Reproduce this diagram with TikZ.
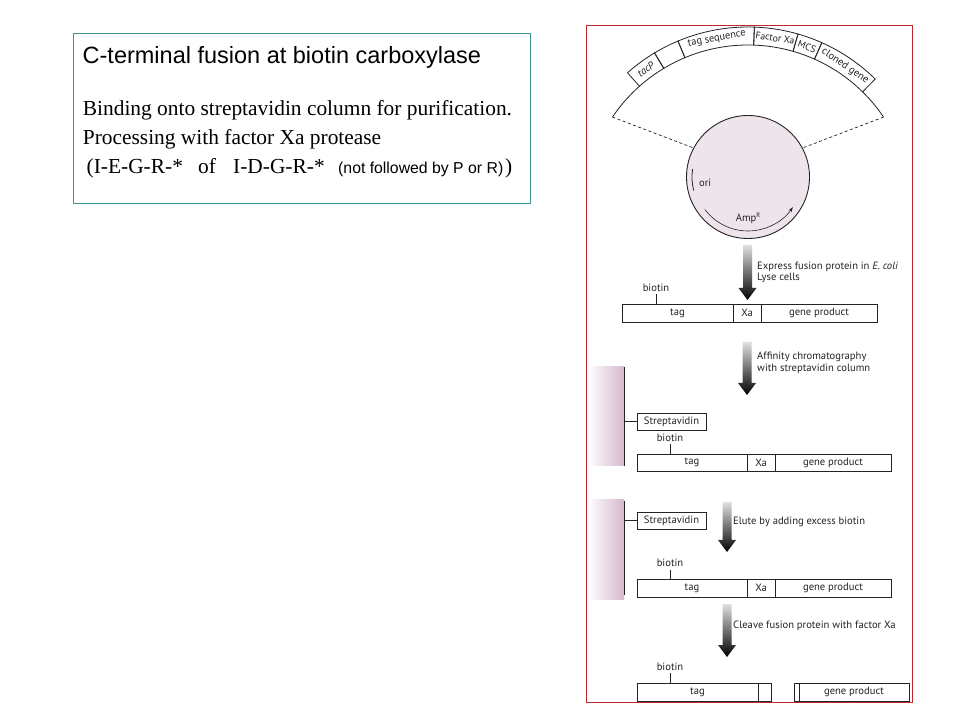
\documentclass[tikz,border=0pt]{standalone}
\usepackage{fontspec}
\setmainfont{Liberation Serif}
\newfontfamily\arialf{Liberation Sans}
\newfontfamily\myr{PT Sans}
\usetikzlibrary{arrows.meta,shadings}
\definecolor{framered}{RGB}{192,40,45}
\definecolor{tealframe}{RGB}{60,150,150}
\definecolor{plas}{RGB}{238,228,236}
\definecolor{colpink}{RGB}{212,184,205}
\definecolor{ink}{RGB}{35,35,35}
\tikzset{
  lbl/.style={inner sep=0pt, font=\myr\fontsize{10.6}{12}\selectfont, text=ink},
  seg/.style={draw=ink, line width=0.8pt, inner sep=0pt, minimum height=18pt, font=\myr\fontsize{10.6}{12}\selectfont, text=ink},
  bigarrow/.style={top color=white!88!black, bottom color=black, draw=none},
  colfill/.style={left color=white, right color=colpink, draw=none},
  ln/.style={draw=ink, line width=0.8pt},
  arcbox/.style={draw=ink, line width=0.8pt},
  arctxt/.style={inner sep=0pt, font=\myr\fontsize{10.4}{11}\selectfont, text=ink},
  body/.style={anchor=base west, inner sep=0pt, font=\fontsize{21.4}{24}\selectfont}
}
\begin{document}
\begin{tikzpicture}[x=1pt,y=1pt]
\useasboundingbox (0,0) rectangle (960,720);
\fill[white] (0,0) rectangle (960,720);

% ---------- left text box ----------
\node[draw=tealframe, line width=0.9pt, minimum width=457pt, minimum height=170pt, inner sep=0pt] (tbox) at (301.5,601.5) {};
\node[anchor=base west, inner sep=0pt, font=\arialf\fontsize{23.5}{26}\selectfont] (title) at (82.5,656.7) {C-terminal fusion at biotin carboxylase};
\node[body] (l1) at (82.7,604.3) {Binding onto streptavidin column for purification.};
\node[body] (l2) at (82.7,575.7) {Processing with factor Xa protease};
\node[body] (l3a) at (86.5,546.7) {(I-E-G-R-*};
\node[body] (l3b) at (198,546.7) {of};
\node[body] (l3c) at (233,546.7) {I-D-G-R-*};
\node[anchor=base west, inner sep=0pt, font=\arialf\fontsize{15.8}{18}\selectfont] (l3d) at (338,546.7) {(not followed by P or R)};
\node[body] (l3e) at (505,546.7) {)};

% ---------- arc with construct ----------
\coordinate (C) at (748,511.5);
\draw[arcbox] ([shift={(146:163.5pt)}]C) arc[start angle=146, end angle=34, radius=163.5pt];
\foreach \a/\b in {131.6/121, 121/112.7, 112.7/88, 88/74, 74/66, 66/45.5}{
  \draw[arcbox] ([shift={(\a:163.5pt)}]C) -- ([shift={(\a:181.5pt)}]C)
     arc[start angle=\a, end angle=\b, radius=181.5pt] -- ([shift={(\b:163.5pt)}]C);
}
\node[arctxt, rotate=36.3] (tacp) at ([shift={(126.3:172.5pt)}]C) {\itshape tacP};
\node[arctxt, rotate=10.4] (tagseq) at ([shift={(100.4:172.5pt)}]C) {tag sequence};
\node[arctxt, rotate=-9, font=\myr\fontsize{9.8}{11}\selectfont] (fxa) at ([shift={(81:172.5pt)}]C) {Factor Xa};
\node[arctxt, rotate=-20, font=\myr\fontsize{9.8}{11}\selectfont] (mcs) at ([shift={(70:172.5pt)}]C) {MCS};
\node[arctxt, rotate=-34.2] (cg) at ([shift={(55.75:172.5pt)}]C) {cloned gene};

% ---------- plasmid ----------
\node[circle, draw=ink, line width=0.9pt, fill=plas, minimum size=123pt, inner sep=0pt] (plasmid) at (748,543) {};
\coordinate (arcL) at ([shift={(146:163.5pt)}]C);
\coordinate (arcR) at ([shift={(34:163.5pt)}]C);
\draw[ink, line width=0.7pt, dash pattern=on 3pt off 2.5pt] (arcL) -- (plasmid.152);
\draw[ink, line width=0.7pt, dash pattern=on 3pt off 2.5pt] (arcR) -- (plasmid.28);
\draw[ink, line width=0.8pt] ([shift={(172:56pt)}]plasmid.center) arc[start angle=172, end angle=194, radius=56pt];
\node[lbl, anchor=base west] (ori) at (699,533) {ori};
\draw[ink, line width=0.6pt, -{Stealth[length=5pt,width=3.5pt]}] ([shift={(217:54pt)}]plasmid.center) arc[start angle=217, end angle=326, radius=54pt];
\node[lbl, anchor=base] (amp) at (748,498) {Amp\raisebox{0.45em}{\fontsize{6.5}{7}\selectfont R}};

% ---------- arrow 1 ----------
\shade[bigarrow] (743,475) -- (752,475) -- (752,432) -- (756.5,432) -- (747.5,420) -- (738.5,432) -- (743,432) -- cycle;
\node[lbl, anchor=base west] (t1a) at (757,450) {Express fusion protein in \textit{E. coli}};
\node[lbl, anchor=base west] (t1b) at (757,439) {Lyse cells};

% ---------- bar 1 ----------
\node[seg, minimum width=111pt] (b1tag) at (677.5,407) {tag};
\node[seg, minimum width=28pt] (b1xa) at (747,407) {Xa};
\node[seg, minimum width=116pt] (b1gp) at (819,407) {gene product};
\node[lbl, anchor=base] (bio1) at (656,428) {biotin};
\draw[ln] (656,425.5) -- (656,416);

% ---------- arrow 2 ----------
\shade[bigarrow] (742.5,378) -- (751.5,378) -- (751.5,337) -- (756,337) -- (747,325) -- (738,337) -- (742.5,337) -- cycle;
\node[lbl, anchor=base west] (t2a) at (757,360) {Affinity chromatography};
\node[lbl, anchor=base west] (t2b) at (757,348) {with streptavidin column};

% ---------- column 1 ----------
\shade[colfill] (588,254) rectangle (624,353);
\draw[ln] (624,353) -- (624,254);
\node[seg, minimum width=69pt, minimum height=17pt] (sa1) at (671.5,298.5) {Streptavidin};
\draw[ln] (624,298.5) -- (sa1.west);
\node[lbl, anchor=base] (bio2) at (670,278.5) {biotin};
\draw[ln] (670,276) -- (670,266);
\node[seg, minimum width=110pt, minimum height=17pt] (b2tag) at (692,257.5) {tag};
\node[seg, minimum width=28pt, minimum height=17pt] (b2xa) at (761,257.5) {Xa};
\node[seg, minimum width=116pt, minimum height=17pt] (b2gp) at (833,257.5) {gene product};

% ---------- column 2 ----------
\shade[colfill] (588,121) rectangle (624,220);
\draw[ln] (624,219) -- (624,125);
\node[seg, minimum width=69pt, minimum height=17pt] (sa2) at (671.5,199.5) {Streptavidin};
\draw[ln] (624,199.5) -- (sa2.west);

% ---------- arrow 3 ----------
\shade[bigarrow] (722.5,218) -- (731.5,218) -- (731.5,180) -- (736,180) -- (727,168) -- (718,180) -- (722.5,180) -- cycle;
\node[lbl, anchor=base west] (t3) at (733,195) {Elute by adding excess biotin};

% ---------- bar 3 ----------
\node[lbl, anchor=base] (bio3) at (670,153.5) {biotin};
\draw[ln] (670,150.5) -- (670,141);
\node[seg, minimum width=110pt] (b3tag) at (692,132) {tag};
\node[seg, minimum width=28pt] (b3xa) at (761,132) {Xa};
\node[seg, minimum width=116pt] (b3gp) at (833,132) {gene product};

% ---------- arrow 4 ----------
\shade[bigarrow] (722.5,116) -- (731.5,116) -- (731.5,75) -- (736,75) -- (727,63) -- (718,75) -- (722.5,75) -- cycle;
\node[lbl, anchor=base west] (t4) at (733,92) {Cleave fusion protein with factor Xa};

% ---------- bar 4 ----------
\node[lbl, anchor=base] (bio4) at (670,49.5) {biotin};
\draw[ln] (670,47) -- (670,37);
\node[seg, minimum width=121pt] (b4tag) at (697.5,28) {tag};
\node[seg, minimum width=13pt] (b4e1) at (764.5,28) {};
\node[seg, minimum width=5pt] (b4e2) at (796.5,28) {};
\node[seg, minimum width=110pt] (b4gp) at (854,28) {gene product};

% ---------- red frame ----------
\draw[framered, line width=1pt] (586,18) rectangle (912,694);
\end{tikzpicture}
\end{document}
